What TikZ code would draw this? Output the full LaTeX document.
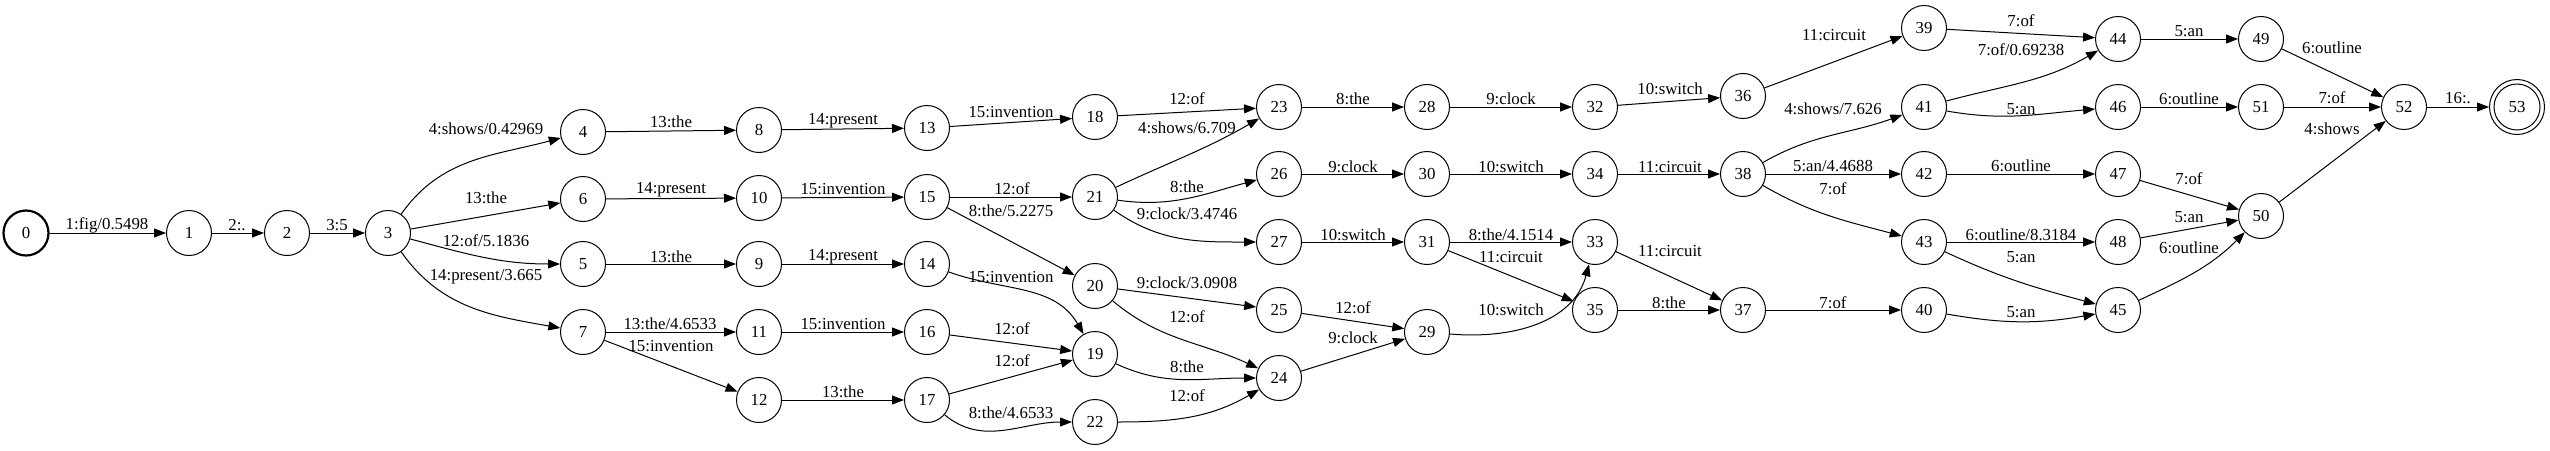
\documentclass[tikz,border=0pt]{standalone}
\usepackage{fontspec}
\setmainfont{Liberation Serif}
\usetikzlibrary{arrows.meta}
\tikzset{
  st/.style={draw, circle, line width=1pt, minimum size=45pt, inner sep=0pt},
  edge/.style={line width=1pt, -{Triangle[length=12pt,width=9pt]}},
  lab/.style={inner sep=0pt}
}
\newcommand\mystate[3]{\node[st] (#1) at (#2,-#3) {#1};}
\newcommand\myedge[6]{\draw[edge] (#1) #3 (#2); \node[lab] (L#1x#2) at (#4,-#5) {#6};}
\begin{document}
\begin{tikzpicture}[x=1pt,y=1pt,font=\fontsize{16.8}{20}\selectfont]
\fill[white] (0,0) rectangle (2550,-450);
\useasboundingbox (0,0) rectangle (2550,-450);
\node[st, line width=2.2pt] (0) at (26,-233) {0};
\mystate{1}{189}{233}
\mystate{2}{287}{233}
\mystate{3}{388}{233}
\mystate{4}{583}{132}
\mystate{6}{583}{199}
\mystate{5}{583}{264}
\mystate{7}{583}{332}
\mystate{8}{759}{130}
\mystate{10}{759}{198}
\mystate{9}{759}{264}
\mystate{11}{759}{332}
\mystate{12}{759}{400}
\mystate{13}{927}{128}
\mystate{15}{927}{197}
\mystate{14}{927}{264}
\mystate{16}{927}{332}
\mystate{17}{927}{400}
\mystate{18}{1095}{117}
\mystate{21}{1095}{197}
\mystate{20}{1095}{286}
\mystate{19}{1095}{354}
\mystate{22}{1095}{422}
\mystate{23}{1279}{107}
\mystate{26}{1279}{174}
\mystate{27}{1279}{242}
\mystate{25}{1279}{310}
\mystate{24}{1279}{378}
\mystate{28}{1427}{107}
\mystate{30}{1427}{174}
\mystate{31}{1427}{242}
\mystate{29}{1427}{332}
\mystate{32}{1595}{107}
\mystate{34}{1595}{174}
\mystate{33}{1595}{242}
\mystate{35}{1595}{310}
\mystate{36}{1743}{96}
\mystate{38}{1743}{174}
\mystate{37}{1743}{310}
\mystate{39}{1924}{28}
\mystate{41}{1924}{107}
\mystate{42}{1924}{174}
\mystate{43}{1924}{242}
\mystate{40}{1924}{310}
\mystate{44}{2118}{39}
\mystate{46}{2118}{107}
\mystate{47}{2118}{174}
\mystate{48}{2118}{242}
\mystate{45}{2118}{310}
\mystate{49}{2261}{39}
\mystate{51}{2261}{107}
\mystate{50}{2261}{216}
\mystate{52}{2404}{107}
\node[st, minimum size=55pt] (53) at (2517,-107) {53};
\draw[line width=1pt] (53.center) circle[radius=23pt];
%
\myedge{0}{1}{--}{107}{225}{1:fig/0.5498}
\myedge{1}{2}{--}{237}{225}{2:.}
\myedge{2}{3}{--}{337}{225}{3:5}
\myedge{3}{4}{to[out=55,in=195]}{486}{129}{4:shows/0.42969}
\myedge{3}{6}{--}{486}{198}{13:the}
\myedge{3}{5}{to[out=-15,in=180]}{486}{241}{12:of/5.1836}
\myedge{3}{7}{to[out=-55,in=170]}{486}{277}{14:present/3.665}
\myedge{4}{8}{--}{671}{122}{13:the}
\myedge{6}{10}{--}{671}{190}{14:present}
\myedge{5}{9}{--}{671}{257}{13:the}
\myedge{7}{11}{--}{670}{324}{13:the/4.6533}
\myedge{7}{12}{--}{671}{346}{15:invention}
\myedge{8}{13}{--}{843}{121}{14:present}
\myedge{10}{15}{--}{843}{189}{15:invention}
\myedge{9}{14}{--}{843}{257}{14:present}
\myedge{11}{16}{--}{843}{324}{15:invention}
\myedge{12}{17}{--}{843}{392}{13:the}
\myedge{13}{18}{--}{1011}{112}{15:invention}
\myedge{15}{21}{--}{1012}{189}{12:of}
\myedge{15}{20}{--}{1011}{211}{8:the/5.2275}
\myedge{14}{19}{to[out=-20,in=120]}{1011}{277}{15:invention}
\myedge{16}{19}{--}{1012}{329}{12:of}
\myedge{17}{19}{--}{1012}{361}{12:of}
\myedge{17}{22}{to[out=-40,in=180]}{1011}{413}{8:the/4.6533}
\myedge{18}{23}{--}{1187}{99}{12:of}
\myedge{21}{23}{to[out=25,in=210]}{1187}{128}{4:shows/6.709}
\myedge{21}{26}{to[out=-8,in=195]}{1187}{187}{8:the}
\myedge{21}{27}{to[out=-35,in=180]}{1187}{214}{9:clock/3.4746}
\myedge{20}{25}{--}{1187}{283}{9:clock/3.0908}
\myedge{20}{24}{to[out=-40,in=155]}{1187}{317}{12:of}
\myedge{19}{24}{to[out=-25,in=180]}{1187}{367}{8:the}
\myedge{22}{24}{to[out=0,in=210]}{1187}{396}{12:of}
\myedge{23}{28}{--}{1353}{99}{8:the}
\myedge{26}{30}{--}{1353}{167}{9:clock}
\myedge{27}{31}{--}{1353}{235}{10:switch}
\myedge{25}{29}{--}{1353}{308}{12:of}
\myedge{24}{29}{--}{1353}{338}{9:clock}
\myedge{28}{32}{--}{1511}{99}{9:clock}
\myedge{30}{34}{--}{1511}{167}{10:switch}
\myedge{31}{33}{--}{1511}{235}{8:the/4.1514}
\myedge{31}{35}{--}{1511}{257}{11:circuit}
\myedge{29}{33}{to[out=-5,in=255]}{1511}{310}{10:switch}
\myedge{32}{36}{--}{1670}{89}{10:switch}
\myedge{34}{38}{--}{1670}{167}{11:circuit}
\myedge{33}{37}{--}{1670}{251}{11:circuit}
\myedge{35}{37}{--}{1669}{303}{8:the}
\myedge{36}{39}{--}{1834}{35}{11:circuit}
\myedge{38}{41}{to[out=30,in=200]}{1833}{109}{4:shows/7.626}
\myedge{38}{42}{--}{1833}{166}{5:an/4.4688}
\myedge{38}{43}{to[out=-30,in=165]}{1833}{189}{7:of}
\myedge{37}{40}{--}{1833}{303}{7:of}
\myedge{39}{44}{--}{2021}{21}{7:of}
\myedge{41}{44}{to[out=15,in=210]}{2021}{50}{7:of/0.69238}
\myedge{41}{46}{to[out=-10,in=185]}{2021}{109}{5:an}
\myedge{42}{47}{--}{2021}{166}{6:outline}
\myedge{43}{48}{--}{2021}{235}{6:outline/8.3184}
\myedge{43}{45}{to[out=-25,in=165]}{2021}{257}{5:an}
\myedge{40}{45}{to[out=-10,in=190]}{2021}{312}{5:an}
\myedge{44}{49}{--}{2189}{31}{5:an}
\myedge{46}{51}{--}{2189}{99}{6:outline}
\myedge{47}{50}{--}{2189}{179}{7:of}
\myedge{48}{50}{--}{2189}{217}{5:an}
\myedge{45}{50}{to[out=25,in=225]}{2189}{248}{6:outline}
\myedge{49}{52}{--}{2332}{48}{6:outline}
\myedge{51}{52}{--}{2332}{98}{7:of}
\myedge{50}{52}{--}{2332}{129}{4:shows}
\myedge{52}{53}{--}{2458}{98}{16:.}
\end{tikzpicture}
\end{document}
